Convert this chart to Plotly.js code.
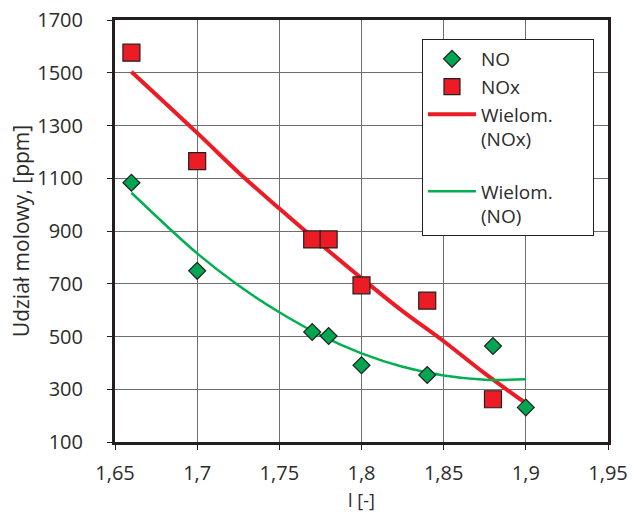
<!DOCTYPE html>
<html>
<head>
<meta charset="utf-8">
<script src="https://cdn.plot.ly/plotly-3.0.1.min.js"></script>
<style>html,body{margin:0;padding:0;background:#fff;}#chart{width:633px;height:512px;}</style>
</head>
<body>
<div id="chart"></div>
<script>
// Measured points
const noX   = [1.66, 1.70, 1.77, 1.78, 1.80, 1.84, 1.88, 1.90];
const noY   = [1083, 749, 517, 502, 391, 354, 464, 231];
const noxX  = [1.66, 1.70, 1.77, 1.78, 1.80, 1.84, 1.88];
const noxY  = [1576, 1165, 868, 868, 694, 636, 262];
// Polynomial trend lines
const trendX    = [1.66, 1.70, 1.725, 1.75, 1.775, 1.80, 1.825, 1.85, 1.875, 1.90];
const trendNoxY = [1504, 1272, 1123, 985, 851, 721, 596, 482, 360, 247];
const trendNoY  = [1045, 815, 694, 592, 505, 436, 385, 352, 336, 338];
const xTicks = [1.65, 1.70, 1.75, 1.80, 1.85, 1.90, 1.95];
const yTicks = [100, 300, 500, 700, 900, 1100, 1300, 1500, 1700];

const FONT = 'Open Sans, Noto Sans, sans-serif';
const TXT = '#2b2b2b';
const NB = '\u00a0';

const traces = [
  {x: trendX, y: trendNoxY, type: 'scatter', mode: 'lines', name: 'Wielom.' + NB.repeat(7) + '<br>(NOx)<br>' + NB,
   line: {color: '#ed1c24', width: 4, shape: 'spline'}, legendrank: 3},
  {x: trendX, y: trendNoY, type: 'scatter', mode: 'lines', name: 'Wielom.<br>(NO)',
   line: {color: '#00b050', width: 2.5, shape: 'spline'}, legendrank: 4},
  {x: noxX, y: noxY, type: 'scatter', mode: 'markers', name: 'NOx',
   marker: {symbol: 'square', size: 17, color: '#ed1c24', line: {color: '#231f20', width: 1.2}}, legendrank: 2},
  {x: noX, y: noY, type: 'scatter', mode: 'markers', name: 'NO',
   marker: {symbol: 'diamond', size: 13, color: '#00a651', line: {color: '#231f20', width: 1.2}}, legendrank: 1}
];

const layout = {
  width: 633, height: 512,
  margin: {l: 115, r: 25, t: 20, b: 70},
  paper_bgcolor: '#fff', plot_bgcolor: '#fff',
  separators: ', ',
  font: {family: FONT, size: 20, color: TXT},
  showlegend: true,
  legend: {
    x: 0.6227, y: 0.955, xanchor: 'left', yanchor: 'top',
    bgcolor: '#fff', bordercolor: '#231f20', borderwidth: 1,
    font: {family: FONT, size: 19, color: TXT},
    valign: 'top', itemwidth: 48, traceorder: 'normal'
  },
  xaxis: {
    range: [1.65, 1.95], tickvals: xTicks, ticktext: xTicks.map(v => String(v).replace('.', ',')),
    showgrid: true, gridcolor: '#6d6e71', gridwidth: 1,
    showline: true, linecolor: '#231f20', linewidth: 3, mirror: true,
    ticks: 'outside', ticklen: 5, tickcolor: '#231f20', tickwidth: 1,
    ticklabelstandoff: 6,
    zeroline: false, automargin: 'left',
    tickfont: {family: FONT, size: 20, color: TXT},
    title: {text: 'l [-]', font: {family: FONT, size: 18, color: TXT}, standoff: 21}
  },
  yaxis: {
    range: [100, 1700], tickvals: yTicks,
    showgrid: true, gridcolor: '#6d6e71', gridwidth: 1,
    showline: true, linecolor: '#231f20', linewidth: 3, mirror: true,
    ticks: 'outside', ticklen: 5, tickcolor: '#231f20', tickwidth: 1,
    ticklabelstandoff: 20,
    zeroline: false, automargin: 'left',
    tickfont: {family: FONT, size: 20, color: TXT},
    title: {text: 'Udział molowy, [ppm]', font: {family: FONT, size: 21, color: TXT}, standoff: 2}
  }
};

Plotly.newPlot('chart', traces, layout, {displayModeBar: false, staticPlot: true});
</script>
</body>
</html>
